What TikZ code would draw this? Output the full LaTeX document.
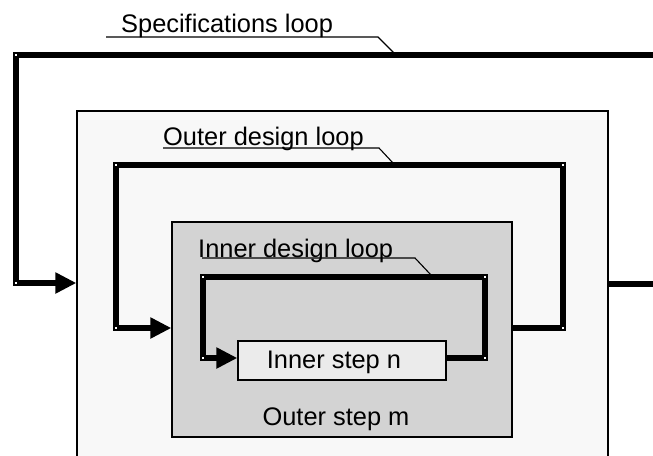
\documentclass[tikz,border=0pt]{standalone}
\usepackage{fontspec}
\setmainfont{Liberation Sans}
\usetikzlibrary{arrows.meta}
\definecolor{sysfill}{HTML}{F8F8F8}
\definecolor{outerfill}{HTML}{D3D3D3}
\definecolor{innerfill}{HTML}{EBEBEB}
\tikzset{
  stagebox/.style={draw=black, line width=1.3pt, inner sep=0pt, rectangle},
  loopline/.style={line width=5.2pt, line join=miter, draw=black},
  loophead/.style={-{Triangle[length=21pt,width=20pt]}},
  leader/.style={line width=1.1pt, draw=black},
  looplabel/.style={anchor=base west, inner sep=0pt, font=\fontsize{25.4}{30}\selectfont},
  steplabel/.style={inner sep=0pt, font=\fontsize{25.4}{30}\selectfont},
  joint/.style={fill=white}
}
\begin{document}
\begin{tikzpicture}[x=1pt, y=-1pt]
  \path[use as bounding box] (0,0) rectangle (653,455);
  \clip (0,0) rectangle (653,455);

  % nested stages
  \node[stagebox, fill=sysfill, minimum width=531pt, minimum height=364pt] (sys) at (342.5,293) {};
  \node[stagebox, fill=outerfill, minimum width=340pt, minimum height=215pt] (outer) at (342,329.5) {};
  \node[stagebox, fill=innerfill, minimum width=208pt, minimum height=39pt] (inner) at (342,360.5) {};
  \node[steplabel] (innertxt) at (334,362) {Inner step n};
  \node[steplabel] (outertxt) at (336,419) {Outer step m};

  % specifications loop
  \coordinate (specout) at (653,284);
  \coordinate (specin) at (653,55);
  \coordinate (s1) at (16,55);
  \coordinate (s2) at (16,283);
  \draw[loopline] (sys.east |- specout) -- (specout);
  \draw[loopline, loophead] (specin) -- (s1) -- (s2) -- (sys.west |- s2);

  % outer design loop
  \coordinate (o1) at (563,328);
  \coordinate (o2) at (563,165);
  \coordinate (o3) at (116,165);
  \coordinate (o4) at (116,328);
  \draw[loopline, loophead] (outer.east |- o1) -- (o1) -- (o2) -- (o3) -- (o4) -- (outer.west |- o4);

  % inner design loop
  \coordinate (i1) at (485,358);
  \coordinate (i2) at (485,277);
  \coordinate (i3) at (203,277);
  \coordinate (i4) at (203,358);
  \draw[loopline, loophead] (inner.east |- i1) -- (i1) -- (i2) -- (i3) -- (i4) -- (inner.west |- i4);

  % corner joints
  \foreach \c in {s1,s2,o1,o2,o3,o4,i1,i2,i3,i4}
    \fill[joint] ([shift={(-1,-1)}]\c) rectangle ([shift={(1,1)}]\c);

  % loop labels with leaders
  \node[looplabel] (speclbl) at (121,32) {Specifications loop};
  \coordinate (sa) at (106,37);
  \coordinate (sb) at (378,37);
  \coordinate (sc) at (394,53);
  \draw[leader] (sa) -- (sb) -- (sc);

  \node[looplabel] (outerlbl) at (163,145) {Outer design loop};
  \coordinate (oa) at (163,148);
  \coordinate (ob) at (379,148);
  \coordinate (oc) at (393,163);
  \draw[leader] (oa) -- (ob) -- (oc);

  \node[looplabel] (innerlbl) at (198,257) {Inner design loop};
  \coordinate (ia) at (202,258);
  \coordinate (ib) at (415,258);
  \coordinate (ic) at (431,275);
  \draw[leader] (ia) -- (ib) -- (ic);
\end{tikzpicture}
\end{document}
